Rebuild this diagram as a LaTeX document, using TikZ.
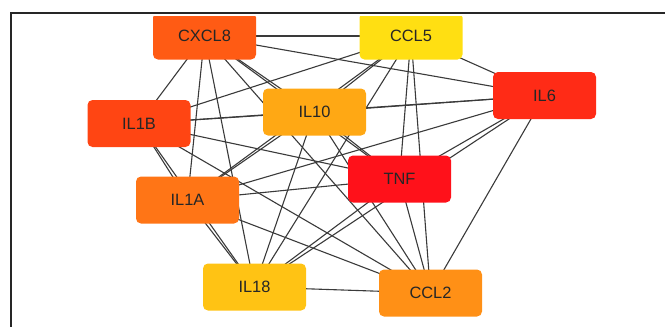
\documentclass[tikz,border=0pt]{standalone}
\usepackage{fontspec}
\setmainfont{Liberation Sans}
\usetikzlibrary{backgrounds}
\definecolor{cCXCL}{HTML}{FF5B14}
\definecolor{cCCLf}{HTML}{FFDF12}
\definecolor{cILB}{HTML}{FF4513}
\definecolor{cILten}{HTML}{FFA814}
\definecolor{cILsix}{HTML}{FF2B16}
\definecolor{cTNF}{HTML}{FF111A}
\definecolor{cILA}{HTML}{FF7516}
\definecolor{cILeight}{HTML}{FFC314}
\definecolor{cCCLt}{HTML}{FF9016}
\definecolor{edgecol}{HTML}{3A3A3A}
\tikzset{
  gene/.style={rectangle, rounded corners=5pt, minimum width=103pt, minimum height=47pt,
    inner sep=0pt, font=\fontsize{16.4}{18}\selectfont, text=black!85},
  link/.style={draw=edgecol, line width=1.1pt},
  frame/.style={draw=black!85, line width=1.4pt}
}
\begin{document}
\begin{tikzpicture}[x=1pt,y=-1pt]
\useasboundingbox (0,0) rectangle (665,327);
\begin{scope}
\clip (12.5,16) rectangle (665,327);
\node[gene, fill=cCXCL] (CXCL8) at (204.5,36) {CXCL8};
\node[gene, fill=cCCLf] (CCL5) at (411,36) {CCL5};
\node[gene, fill=cILB] (IL1B) at (139,123.5) {IL1B};
\node[gene, fill=cILten] (IL10) at (314.5,112) {IL10};
\node[gene, fill=cILsix] (IL6) at (544.5,95.5) {IL6};
\node[gene, fill=cTNF] (TNF) at (399.5,179) {TNF};
\node[gene, fill=cILA] (IL1A) at (187.5,200) {IL1A};
\node[gene, fill=cILeight] (IL18) at (254.5,287) {IL18};
\node[gene, fill=cCCLt] (CCL2) at (430.5,293) {CCL2};
\begin{pgfonlayer}{background}
\foreach \a/\b in {CXCL8/CCL5, CXCL8/IL1B, CXCL8/IL10, CXCL8/IL6, CXCL8/TNF, CXCL8/IL1A, CXCL8/IL18, CXCL8/CCL2,
  CCL5/IL1B, CCL5/IL10, CCL5/IL6, CCL5/TNF, CCL5/IL1A, CCL5/IL18, CCL5/CCL2,
  IL1B/IL10, IL1B/IL6, IL1B/TNF, IL1B/IL1A, IL1B/IL18, IL1B/CCL2,
  IL10/IL6, IL10/TNF, IL10/IL1A, IL10/IL18, IL10/CCL2,
  IL6/TNF, IL6/IL1A, IL6/IL18, IL6/CCL2,
  TNF/IL1A, TNF/IL18, TNF/CCL2,
  IL1A/IL18, IL1A/CCL2,
  IL18/CCL2}
  \draw[link] (\a.center) -- (\b.center);
\end{pgfonlayer}
\end{scope}
\coordinate (fc) at (11,327);
\coordinate (ft) at (11,13);
\coordinate (fr) at (665,13);
\draw[frame] (fc) -- (ft) -- (fr);
\end{tikzpicture}
\end{document}
